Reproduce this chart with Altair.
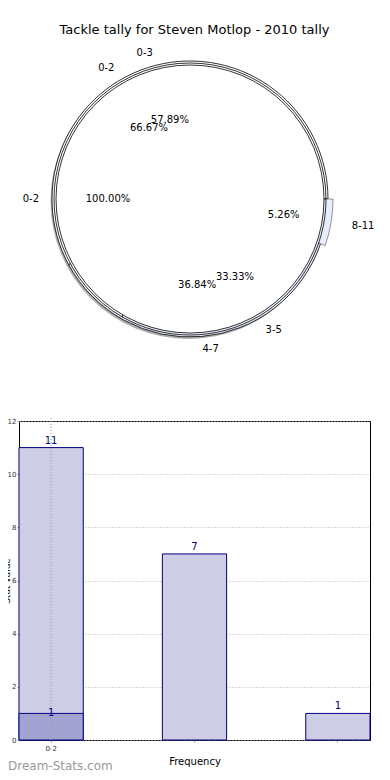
import math
import altair as alt
import pandas as pd

title_text = "Tackle tally for Steven Motlop - 2010 tally"
watermark = "Dream-Stats.com"

# innermost pie
cats1 = ["0-2"]
pct1 = [100.00]
# middle pie
cats2 = ["0-2", "3-5"]
pct2 = [66.67, 33.33]
# outer pie
cats3 = ["0-3", "4-7", "8-11"]
pct3 = [57.89, 36.84, 5.26]

# bar chart
bar_values = [11, 7, 1]
overlay_values = [1]
y_ticks = [0, 2, 4, 6, 8, 10, 12]
x_title = "Frequency"
y_title = "Stat value"

W, H = 351, 319
CX, CY = 171, -222
FONT = "DejaVu Sans"

theta_scale = alt.Scale(domain=[0, 1], range=[2.5 * math.pi, 0.5 * math.pi])


def pie_base(cats, pcts):
    df = pd.DataFrame({"cat": cats, "pct": pcts, "idx": list(range(len(cats)))})
    return (
        alt.Chart(df)
        .transform_window(cum="sum(pct)", sort=[alt.SortField("idx")], frame=[None, 0])
        .transform_joinaggregate(total="sum(pct)")
        .transform_calculate(
            start="(datum.cum - datum.pct) / datum.total",
            end="datum.cum / datum.total",
            mid="(datum.cum - datum.pct / 2) / datum.total",
            side="cos(2 * PI * (datum.cum - datum.pct / 2) / datum.total) >= 0 ? 1 : 0",
            pct_txt="format(datum.pct, '.2f') + '%'",
        )
    )


def arcs(base, r, stroke="black", light="#e9eefb"):
    return base.mark_arc(stroke=stroke, strokeWidth=0.8).encode(
        x=alt.value(CX),
        y=alt.value(CY),
        theta=alt.Theta("start:Q", scale=theta_scale, stack=False),
        theta2="end:Q",
        radius=alt.value(r),
        fill=alt.condition("datum.idx == 0", alt.value("white"), alt.value(light)),
    )


def pct_labels(base, r):
    return base.mark_text(font=FONT, fontSize=10, color="black").encode(
        x=alt.value(CX),
        y=alt.value(CY),
        theta=alt.Theta("mid:Q", scale=theta_scale, stack=False),
        radius=alt.value(r),
        text="pct_txt:N",
    )


def cat_labels(base, r):
    right = base.transform_filter("datum.side == 1").mark_text(
        font=FONT, fontSize=10, color="black", align="left"
    ).encode(
        x=alt.value(CX), y=alt.value(CY),
        theta=alt.Theta("mid:Q", scale=theta_scale, stack=False),
        radius=alt.value(r), text="cat:N",
    )
    left = base.transform_filter("datum.side == 0").mark_text(
        font=FONT, fontSize=10, color="black", align="right"
    ).encode(
        x=alt.value(CX), y=alt.value(CY),
        theta=alt.Theta("mid:Q", scale=theta_scale, stack=False),
        radius=alt.value(r), text="cat:N",
    )
    return right + left


b1 = pie_base(cats1, pct1)
b2 = pie_base(cats2, pct2)
b3 = pie_base(cats3, pct3)

shadow = b1.mark_arc(fill="#6a6a6a", opacity=0.55).encode(
    x=alt.value(CX - 1.5), y=alt.value(CY + 2),
    theta=alt.Theta("start:Q", scale=theta_scale, stack=False), theta2="end:Q",
    radius=alt.value(138),
)
pie3 = arcs(b3, 138)
pie3_explode = arcs(b3.transform_filter("datum.idx == 2"), 143, stroke="#777777")
pie2 = arcs(b2, 136)
pie1 = arcs(b1, 134)

labels = (
    cat_labels(b3.transform_filter("datum.idx < 2"), 151)
    + cat_labels(b3.transform_filter("datum.idx == 2"), 164)
    + cat_labels(b2, 151) + cat_labels(b1, 151)
    + pct_labels(b3.transform_filter("datum.idx == 0"), 82)
    + pct_labels(b3.transform_filter("datum.idx == 1"), 86)
    + pct_labels(b3.transform_filter("datum.idx == 2"), 95)
    + pct_labels(b2.transform_filter("datum.idx == 0"), 82)
    + pct_labels(b2.transform_filter("datum.idx == 1"), 90)
    + pct_labels(b1, 82)
)

title_mark = alt.Chart(pd.DataFrame({"t": [title_text]})).mark_text(
    font=FONT, fontSize=13, color="black", align="center", baseline="middle"
).encode(x=alt.value(W / 2), y=alt.value(-391), text="t:N")

# bars
bar_df = pd.DataFrame({"pos": list(range(len(bar_values))), "value": bar_values})
ov_df = pd.DataFrame({"pos": list(range(len(overlay_values))), "value": overlay_values})

x_enc = alt.X(
    "pos:O",
    scale=alt.Scale(domain=list(range(len(bar_values))), paddingInner=0.552, paddingOuter=0),
    axis=alt.Axis(
        title=x_title, labelExpr=f"datum.value == 0 ? '{cats1[0]}' : ''", labelAngle=0,
        labelFontSize=7, labelFont=FONT, labelColor="#333333", labelPadding=2,
        tickSize=2, tickColor="#999999", domain=False, grid=False,
        titleFont=FONT, titleFontSize=10, titleFontWeight="normal", titlePadding=5,
    ),
)
y_enc = alt.Y(
    "value:Q",
    scale=alt.Scale(domain=[0, 12]),
    axis=alt.Axis(
        values=y_ticks, title=y_title, labelFontSize=7, labelFont=FONT,
        labelColor="#333333", labelPadding=1, tickSize=2, tickColor="#999999",
        domain=False, grid=True, gridColor="#b5b5b5", gridDash=[1, 2],
        titleFont=FONT, titleFontSize=9, titleFontWeight="normal",
        titleX=-10, titleY=H / 2, titleAngle=270, titleBaseline="alphabetic",
    ),
)

bars = alt.Chart(bar_df).mark_bar(fill="#cdcde6", stroke="#000080", strokeWidth=1).encode(
    x=x_enc, y=y_enc
)
ov_bars = alt.Chart(ov_df).mark_bar(fill="#a3a3d1", stroke="#000080", strokeWidth=1).encode(
    x="pos:O", y="value:Q"
)
vgrid = alt.Chart(ov_df).mark_rule(color="#999999", strokeDash=[1, 2]).encode(
    x="pos:O", y=alt.value(-3), y2=alt.value(H)
)
bar_txt = alt.Chart(bar_df).mark_text(
    font=FONT, fontSize=10, color="#000080", baseline="bottom", dy=-2
).encode(x="pos:O", y="value:Q", text="value:Q")
ov_txt = alt.Chart(ov_df).mark_text(
    font=FONT, fontSize=10, color="#000080", baseline="middle"
).encode(x="pos:O", y="value:Q", text="value:Q")

wm = alt.Chart(pd.DataFrame({"t": [watermark]})).mark_text(
    font=FONT, fontSize=12, color="#999999", align="left", baseline="alphabetic"
).encode(x=alt.value(-11), y=alt.value(349), text="t:N")

chart = alt.layer(
    bars, ov_bars, vgrid, bar_txt, ov_txt,
    shadow, pie3, pie3_explode, pie2, pie1, labels, title_mark, wm,
).properties(
    width=W, height=H,
    autosize=alt.AutoSizeParams(type="none"),
    padding={"left": 11, "top": 413, "right": 12, "bottom": 34},
).configure_view(stroke="black", strokeWidth=1)

chart.save("out.html", embed_options={"renderer": "svg", "actions": False})
